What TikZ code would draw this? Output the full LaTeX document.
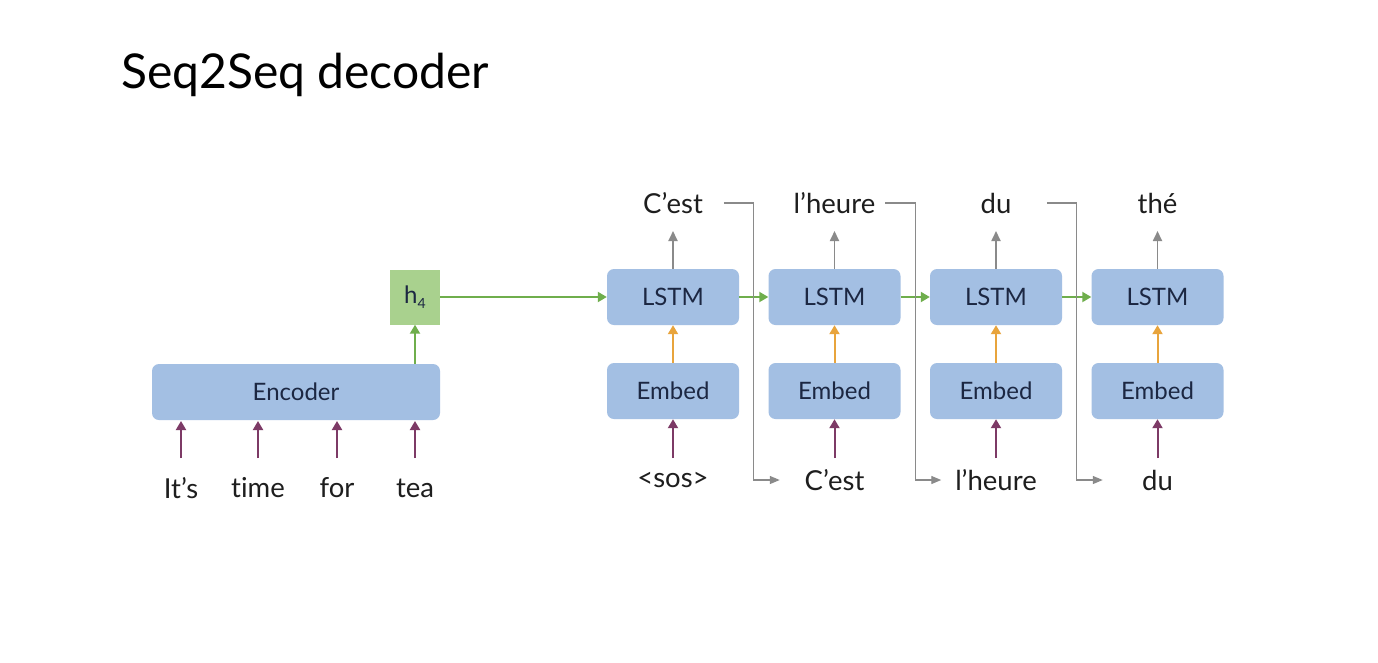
\documentclass[tikz,border=0pt]{standalone}
\usepackage{fontspec}
\setmainfont{Lato}[Ligatures=NoCommon]
\usetikzlibrary{arrows.meta,calc}
\definecolor{boxblue}{HTML}{A3BFE3}
\definecolor{hgreen}{HTML}{A9D18E}
\definecolor{arrgreen}{HTML}{6FAE4C}
\definecolor{arrorange}{HTML}{E8A43C}
\definecolor{arrpurple}{HTML}{7D3A66}
\definecolor{arrgray}{HTML}{8A8A8A}
\definecolor{boxtext}{HTML}{1C2742}
\definecolor{wordtext}{HTML}{1E1E1E}
\begin{document}
\begin{tikzpicture}[x=1pt,y=-1pt,
  blk/.style={fill=boxblue,rounded corners=7pt,minimum height=56pt,inner sep=0pt,
              text=boxtext,font=\fontsize{24}{28}\selectfont},
  cell/.style={blk,minimum width=132pt},
  word/.style={text=wordtext,font=\fontsize{27.5}{32}\selectfont,inner sep=0pt,anchor=center},
  garr/.style={draw=arrgreen,line width=2pt,-{Triangle[length=9pt,width=10pt]}},
  oarr/.style={draw=arrorange,line width=2pt,-{Triangle[length=9pt,width=10pt]}},
  parr/.style={draw=arrpurple,line width=2pt,-{Triangle[length=9pt,width=10pt]}},
  gyarr/.style={draw=arrgray,line width=1.8pt,-{Triangle[length=10pt,width=9pt]}},
  fb/.style={draw=arrgray,line width=1.3pt,-{Triangle[length=10pt,width=8pt]}}]
\useasboundingbox (0,0) rectangle (1378,662);
\fill[white] (0,0) rectangle (1378,662);

% title
\node[anchor=base west,inner sep=0pt,font=\fontsize{48}{56}\selectfont,text=black] (title) at (121,88) {Seq2Seq decoder};

% encoder side
\node[blk,minimum width=288pt] (enc) at (296,392) {Encoder};
\node[fill=hgreen,minimum width=50pt,minimum height=55pt,inner sep=0pt,text=boxtext,
      font=\fontsize{24}{28}\selectfont] (h4) at (415,297) {h\raisebox{-0.45ex}{\fontsize{14}{16}\selectfont 4}};
\coordinate (encout) at (415,364);
\draw[garr] (encout) -- (h4.south);

\foreach \x/\w/\n in {181/It’s/i1,258/time/i2,337/for/i3,415/tea/i4}{
  \node[word] (\n) at (\x,488) {\w};
  \draw[parr] (\x,458) -- (\x,421);
}

% decoder columns
\foreach \i/\x/\tw/\bw in {1/673/C’est/<sos>,2/834.5/l’heure/C’est,3/996/du/l’heure,4/1157.5/thé/du}{
  \node[cell] (l\i) at (\x,297) {LSTM};
  \node[cell] (e\i) at (\x,391) {Embed};
  \node[word] (t\i) at (\x,203) {\tw};
  \node[word] (b\i) at (\x,480) {\bw};
  \draw[oarr] (e\i.north) -- (l\i.south);
  \draw[gyarr] (l\i.north) -- (\x,231);
  \draw[parr] (\x,458) -- (e\i.south);
}

% hidden state flow
\draw[garr] (h4.east) -- (l1.west);
\draw[garr] (l1.east) -- (l2.west);
\draw[garr] (l2.east) -- (l3.west);
\draw[garr] (l3.east) -- (l4.west);

% feedback of each predicted word into the next step
\foreach \a/\b in {1/2,2/3,3/4}{
  \coordinate (m\a) at ($(l\a.east)!0.5!(l\b.west)$);
  \draw[fb] ([xshift=-30pt]m\a |- t\a.east) -- (m\a |- t\a.east) -- (m\a |- b\b.west) -- ([xshift=26pt]m\a |- b\b.west);
}
\end{tikzpicture}
\end{document}
